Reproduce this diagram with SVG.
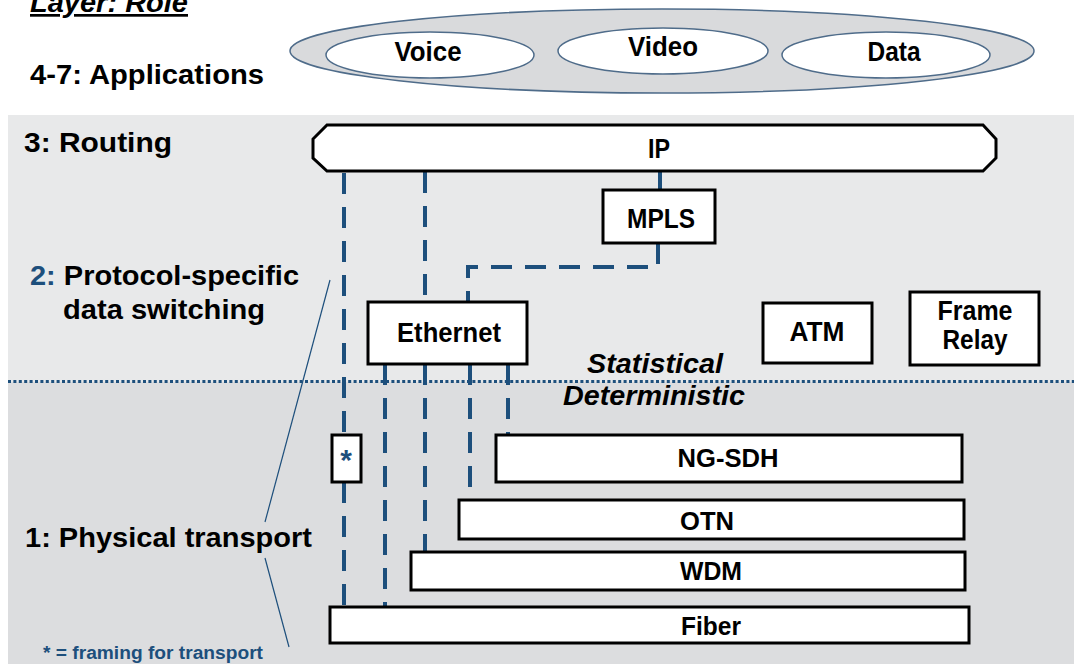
<svg xmlns="http://www.w3.org/2000/svg" width="1074" height="664" viewBox="0 0 1074 664">
<style>
.t{font-family:"Liberation Sans",Arial,sans-serif;font-weight:bold;fill:#000}
.role{font-size:28px}
.bl{font-size:27px;text-anchor:middle}
.bar{font-size:26px;text-anchor:middle}
.box{fill:#fff;stroke:#000;stroke-width:3}
.ell{fill:#fff;stroke:#4f6c8a;stroke-width:1.5}
.conn{fill:none;stroke:#1d4f7c;stroke-width:4;stroke-dasharray:21 13}
.lead{fill:none;stroke:#1d4f7c;stroke-width:1.2}
.blue{fill:#1d4f7c}
</style>
<rect x="0" y="0" width="1074" height="664" fill="#fff"/>
<rect x="8" y="115" width="1066" height="267" fill="#e8e9ea"/>
<rect x="8" y="382" width="1066" height="282" fill="#dcdddf"/>
<line x1="8" y1="381.5" x2="1074" y2="381.5" stroke="#1d4f7c" stroke-width="3" stroke-dasharray="3 2.4"/>

<g id="role-labels">
<text class="t" x="30" y="12" font-size="27" font-style="italic" text-decoration="underline" textLength="158" lengthAdjust="spacingAndGlyphs">Layer: Role</text>
<text class="t role" x="30" y="84" textLength="234" lengthAdjust="spacingAndGlyphs">4-7: Applications</text>
<text class="t role" x="24" y="152" textLength="148" lengthAdjust="spacingAndGlyphs">3: Routing</text>
<text class="t role" x="30" y="285" textLength="269" lengthAdjust="spacingAndGlyphs"><tspan class="blue">2:</tspan> Protocol-specific</text>
<text class="t role" x="63" y="319" textLength="202" lengthAdjust="spacingAndGlyphs">data switching</text>
<text class="t role" x="25" y="547" textLength="287" lengthAdjust="spacingAndGlyphs">1: Physical transport</text>
<text class="t blue" x="43" y="659" font-size="18" textLength="220" lengthAdjust="spacingAndGlyphs">* = framing for transport</text>
<text class="t" x="655" y="373" font-size="28" font-style="italic" text-anchor="middle" textLength="136" lengthAdjust="spacingAndGlyphs">Statistical</text>
<text class="t" x="654" y="405" font-size="28" font-style="italic" text-anchor="middle" textLength="182" lengthAdjust="spacingAndGlyphs">Deterministic</text>
</g>

<g id="applications">
<ellipse cx="662" cy="51" rx="372" ry="42" fill="#d9dadc" stroke="#4f6c8a" stroke-width="1.5"/>
<g id="voice"><ellipse class="ell" cx="430" cy="55" rx="104" ry="23"/><text class="t bl" x="428" y="61" font-size="26" textLength="67" lengthAdjust="spacingAndGlyphs">Voice</text></g>
<g id="video"><ellipse class="ell" cx="663" cy="51" rx="105" ry="23"/><text class="t bl" x="663" y="56" font-size="26" textLength="70" lengthAdjust="spacingAndGlyphs">Video</text></g>
<g id="data"><ellipse class="ell" cx="886" cy="55" rx="104" ry="23"/><text class="t bl" x="894" y="61" font-size="26" textLength="53" lengthAdjust="spacingAndGlyphs">Data</text></g>
</g>

<g id="connectors">
<path class="conn" d="M344 173 V435"/>
<path class="conn" d="M344 482 V607"/>
<path class="conn" d="M425 172 V302"/>
<path class="conn" d="M660 172 V190"/>
<path class="conn" d="M658 243 V267 H468 V302"/>
<path class="conn" d="M385 364 V607"/>
<path class="conn" d="M425 364 V552"/>
<path class="conn" d="M470 364 V500"/>
<path class="conn" d="M508 364 V435"/>
<path class="lead" d="M330 280 L265 522"/>
<path class="lead" d="M265 558 L289 647"/>
</g>

<g id="ip">
<polygon class="box" points="327,125 983,125 996,139 996,158 983,171 327,171 313,158 313,139"/>
<text class="t bl" x="659" y="158" font-size="28" textLength="22" lengthAdjust="spacingAndGlyphs">IP</text>
</g>
<g id="mpls">
<rect class="box" x="603" y="190" width="112" height="53"/>
<text class="t bl" x="661" y="228" textLength="68" lengthAdjust="spacingAndGlyphs">MPLS</text>
</g>
<g id="ethernet">
<rect class="box" x="368" y="302" width="159" height="62"/>
<text class="t bl" x="449" y="342" textLength="104" lengthAdjust="spacingAndGlyphs">Ethernet</text>
</g>
<g id="atm">
<rect class="box" x="763" y="303" width="109" height="60"/>
<text class="t bl" x="817" y="341" textLength="55" lengthAdjust="spacingAndGlyphs">ATM</text>
</g>
<g id="frame-relay">
<rect class="box" x="910" y="292" width="129" height="73"/>
<text class="t bl" x="975" y="320" textLength="75" lengthAdjust="spacingAndGlyphs">Frame</text>
<text class="t bl" x="975" y="349" textLength="65" lengthAdjust="spacingAndGlyphs">Relay</text>
</g>
<g id="framing">
<rect class="box" x="332" y="435" width="29" height="47"/>
<text class="t blue" x="346" y="470" font-size="30" text-anchor="middle">*</text>
</g>
<g id="ng-sdh">
<rect class="box" x="496" y="435" width="466" height="47"/>
<text class="t bar" x="728" y="467" textLength="101" lengthAdjust="spacingAndGlyphs">NG-SDH</text>
</g>
<g id="otn">
<rect class="box" x="459" y="500" width="505" height="39"/>
<text class="t bar" x="707" y="530" textLength="54" lengthAdjust="spacingAndGlyphs">OTN</text>
</g>
<g id="wdm">
<rect class="box" x="411" y="552" width="554" height="38"/>
<text class="t bar" x="711" y="580" textLength="62" lengthAdjust="spacingAndGlyphs">WDM</text>
</g>
<g id="fiber">
<rect class="box" x="330" y="607" width="639" height="36"/>
<text class="t bar" x="711" y="635" textLength="60" lengthAdjust="spacingAndGlyphs">Fiber</text>
</g>
</svg>
